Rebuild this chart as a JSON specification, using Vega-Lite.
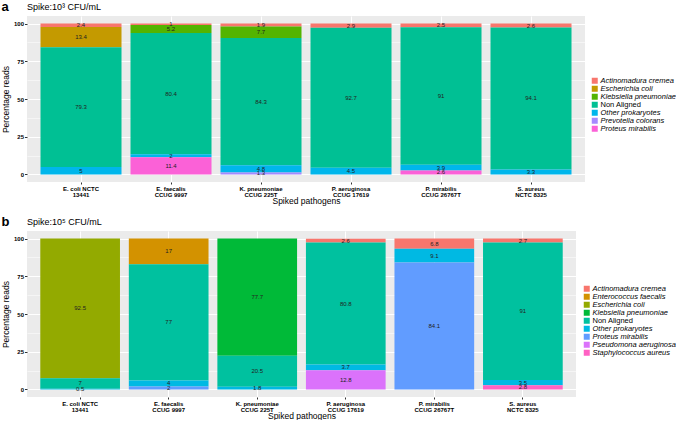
{
  "$schema": "https://vega.github.io/schema/vega-lite/v6.json",
  "background": "white",
  "padding": {"left": 1, "top": 1, "right": 0, "bottom": 0},
  "spacing": 11,
  "config": {
    "font": "Liberation Sans",
    "view": {"fill": "#EBEBEB", "stroke": null},
    "concat": {"spacing": 0},
    "axis": {
      "domain": false,
      "tickColor": "#333333",
      "tickSize": 2.5,
      "labelFontSize": 6,
      "labelFontWeight": "bold",
      "labelColor": "#000000",
      "labelPadding": 1,
      "gridColor": "#FFFFFF",
      "gridWidth": 1,
      "titleFontSize": 8.5,
      "titleFontWeight": "normal",
      "titleColor": "#000000"
    },
    "title": {"color": "#000000"}
  },
  "datasets": {
    "a": [
      {"sample": "E. coli NCTC\n13441", "taxon": "Actinomadura cremea", "pct": 2.4},
      {"sample": "E. coli NCTC\n13441", "taxon": "Escherichia coli", "pct": 13.4},
      {"sample": "E. coli NCTC\n13441", "taxon": "Non Aligned", "pct": 79.3},
      {"sample": "E. coli NCTC\n13441", "taxon": "Other prokaryotes", "pct": 5},
      {"sample": "E. faecalis\nCCUG 9997", "taxon": "Actinomadura cremea", "pct": 1},
      {"sample": "E. faecalis\nCCUG 9997", "taxon": "Klebsiella pneumoniae", "pct": 5.2},
      {"sample": "E. faecalis\nCCUG 9997", "taxon": "Non Aligned", "pct": 80.4},
      {"sample": "E. faecalis\nCCUG 9997", "taxon": "Other prokaryotes", "pct": 2},
      {"sample": "E. faecalis\nCCUG 9997", "taxon": "Proteus mirabilis", "pct": 11.4},
      {"sample": "K. pneumoniae\nCCUG 225T", "taxon": "Actinomadura cremea", "pct": 1.9},
      {"sample": "K. pneumoniae\nCCUG 225T", "taxon": "Klebsiella pneumoniae", "pct": 7.7},
      {"sample": "K. pneumoniae\nCCUG 225T", "taxon": "Non Aligned", "pct": 84.3},
      {"sample": "K. pneumoniae\nCCUG 225T", "taxon": "Other prokaryotes", "pct": 4.8},
      {"sample": "K. pneumoniae\nCCUG 225T", "taxon": "Prevotella colorans", "pct": 1.3},
      {"sample": "P. aeruginosa\nCCUG 17619", "taxon": "Actinomadura cremea", "pct": 2.9},
      {"sample": "P. aeruginosa\nCCUG 17619", "taxon": "Non Aligned", "pct": 92.7},
      {"sample": "P. aeruginosa\nCCUG 17619", "taxon": "Other prokaryotes", "pct": 4.5},
      {"sample": "P. mirabilis\nCCUG 26767T", "taxon": "Actinomadura cremea", "pct": 2.5},
      {"sample": "P. mirabilis\nCCUG 26767T", "taxon": "Non Aligned", "pct": 91},
      {"sample": "P. mirabilis\nCCUG 26767T", "taxon": "Other prokaryotes", "pct": 3.9},
      {"sample": "P. mirabilis\nCCUG 26767T", "taxon": "Proteus mirabilis", "pct": 2.6},
      {"sample": "S. aureus\nNCTC 8325", "taxon": "Actinomadura cremea", "pct": 2.6},
      {"sample": "S. aureus\nNCTC 8325", "taxon": "Non Aligned", "pct": 94.1},
      {"sample": "S. aureus\nNCTC 8325", "taxon": "Other prokaryotes", "pct": 3.3}
    ],
    "b": [
      {"sample": "E. coli NCTC\n13441", "taxon": "Escherichia coli", "pct": 92.5},
      {"sample": "E. coli NCTC\n13441", "taxon": "Non Aligned", "pct": 7},
      {"sample": "E. coli NCTC\n13441", "taxon": "Other prokaryotes", "pct": 0.5},
      {"sample": "E. faecalis\nCCUG 9997", "taxon": "Enterococcus faecalis", "pct": 17},
      {"sample": "E. faecalis\nCCUG 9997", "taxon": "Non Aligned", "pct": 77},
      {"sample": "E. faecalis\nCCUG 9997", "taxon": "Other prokaryotes", "pct": 4},
      {"sample": "E. faecalis\nCCUG 9997", "taxon": "Proteus mirabilis", "pct": 2},
      {"sample": "K. pneumoniae\nCCUG 225T", "taxon": "Klebsiella pneumoniae", "pct": 77.7},
      {"sample": "K. pneumoniae\nCCUG 225T", "taxon": "Non Aligned", "pct": 20.5},
      {"sample": "K. pneumoniae\nCCUG 225T", "taxon": "Other prokaryotes", "pct": 1.8},
      {"sample": "P. aeruginosa\nCCUG 17619", "taxon": "Actinomadura cremea", "pct": 2.6},
      {"sample": "P. aeruginosa\nCCUG 17619", "taxon": "Non Aligned", "pct": 80.8},
      {"sample": "P. aeruginosa\nCCUG 17619", "taxon": "Other prokaryotes", "pct": 3.7},
      {"sample": "P. aeruginosa\nCCUG 17619", "taxon": "Pseudomona aeruginosa", "pct": 12.8},
      {"sample": "P. mirabilis\nCCUG 26767T", "taxon": "Actinomadura cremea", "pct": 6.8},
      {"sample": "P. mirabilis\nCCUG 26767T", "taxon": "Other prokaryotes", "pct": 9.1},
      {"sample": "P. mirabilis\nCCUG 26767T", "taxon": "Proteus mirabilis", "pct": 84.1},
      {"sample": "S. aureus\nNCTC 8325", "taxon": "Actinomadura cremea", "pct": 2.7},
      {"sample": "S. aureus\nNCTC 8325", "taxon": "Non Aligned", "pct": 91},
      {"sample": "S. aureus\nNCTC 8325", "taxon": "Other prokaryotes", "pct": 3.5},
      {"sample": "S. aureus\nNCTC 8325", "taxon": "Staphylococcus aureus", "pct": 2.8}
    ]
  },
  "vconcat": [
    {
      "title": {"text": "a", "fontSize": 13, "fontWeight": "bold", "anchor": "start", "frame": "bounds", "offset": -11},
      "vconcat": [
        {
          "title": {"text": "Spike:10\u00b3 CFU/mL", "fontSize": 9, "fontWeight": "normal", "anchor": "start", "frame": "group", "offset": 4},
          "width": 558,
          "height": 166,
          "data": {"name": "a"},
          "encoding": {
            "x": {
              "field": "sample", "type": "nominal", "sort": null,
              "scale": {"paddingInner": 0.1, "paddingOuter": 0.15},
              "axis": {"title": "Spiked pathogens", "labelAngle": 0, "labelExpr": "split(datum.label, '\\n')", "labelLineHeight": 6.5, "grid": true, "bandPosition": 0.5, "titlePadding": -1, "tickSize": 2}
            },
            "y": {
              "field": "pct", "type": "quantitative", "stack": "zero",
              "scale": {"domain": [-5, 105], "nice": false, "zero": false},
              "axis": {
                "title": "Percentage reads",
                "values": [0, 12.5, 25, 37.5, 50, 62.5, 75, 87.5, 100],
                "labelExpr": "datum.value % 25 === 0 ? datum.label : ''",
                "grid": true,
                "gridWidth": {"condition": {"test": "datum.value % 25 !== 0", "value": 0.5}, "value": 1},
                "tickOpacity": {"condition": {"test": "datum.value % 25 !== 0", "value": 0}, "value": 1},
                "titlePadding": 3
              }
            },
            "order": {"field": "taxon", "sort": "descending"}
          },
          "layer": [
            {
              "mark": {"type": "bar"},
              "encoding": {
                "color": {
                  "field": "taxon", "type": "nominal",
                  "scale": {
                    "domain": ["Actinomadura cremea", "Escherichia coli", "Klebsiella pneumoniae", "Non Aligned", "Other prokaryotes", "Prevotella colorans", "Proteus mirabilis"],
                    "range": ["#F8766D", "#C49A00", "#53B400", "#00C094", "#00B6EB", "#A58AFF", "#FB61D7"]
                  },
                  "legend": {
                    "title": null, "orient": "none", "legendX": 564, "legendY": 61,
                    "symbolType": "square", "symbolSize": 36, "symbolStrokeWidth": 0, "symbolOpacity": 1,
                    "labelFontSize": 7.5, "labelColor": "#000000", "rowPadding": -3, "labelOffset": 2,
                    "encode": {"labels": {"update": {"fontStyle": {"signal": "datum.label === 'Non Aligned' ? 'normal' : 'italic'"}}}}
                  }
                }
              }
            },
            {
              "mark": {"type": "text", "fontSize": 6, "color": "#222222"},
              "encoding": {
                "y": {"field": "pct", "type": "quantitative", "stack": "zero", "bandPosition": 0.5},
                "detail": {"field": "taxon"},
                "text": {"field": "pct", "type": "nominal"}
              }
            }
          ]
        }
      ]
    },
    {
      "title": {"text": "b", "fontSize": 13, "fontWeight": "bold", "anchor": "start", "frame": "bounds", "offset": -11},
      "vconcat": [
        {
          "title": {"text": "Spike:10\u2075 CFU/mL", "fontSize": 9, "fontWeight": "normal", "anchor": "start", "frame": "group", "offset": 4},
          "width": 549,
          "height": 166,
          "data": {"name": "b"},
          "encoding": {
            "x": {
              "field": "sample", "type": "nominal", "sort": null,
              "scale": {"paddingInner": 0.1, "paddingOuter": 0.15},
              "axis": {"title": "Spiked pathogens", "labelAngle": 0, "labelExpr": "split(datum.label, '\\n')", "labelLineHeight": 6.5, "grid": true, "bandPosition": 0.5, "titlePadding": -1, "tickSize": 2}
            },
            "y": {
              "field": "pct", "type": "quantitative", "stack": "zero",
              "scale": {"domain": [-5, 105], "nice": false, "zero": false},
              "axis": {
                "title": "Percentage reads",
                "values": [0, 12.5, 25, 37.5, 50, 62.5, 75, 87.5, 100],
                "labelExpr": "datum.value % 25 === 0 ? datum.label : ''",
                "grid": true,
                "gridWidth": {"condition": {"test": "datum.value % 25 !== 0", "value": 0.5}, "value": 1},
                "tickOpacity": {"condition": {"test": "datum.value % 25 !== 0", "value": 0}, "value": 1},
                "titlePadding": 3
              }
            },
            "order": {"field": "taxon", "sort": "descending"}
          },
          "layer": [
            {
              "mark": {"type": "bar"},
              "encoding": {
                "color": {
                  "field": "taxon", "type": "nominal",
                  "scale": {
                    "domain": ["Actinomadura cremea", "Enterococcus faecalis", "Escherichia coli", "Klebsiella pneumoniae", "Non Aligned", "Other prokaryotes", "Proteus mirabilis", "Pseudomona aeruginosa", "Staphylococcus aureus"],
                    "range": ["#F8766D", "#D39200", "#93AA00", "#00BA38", "#00C19F", "#00B9E3", "#619CFF", "#DB72FB", "#FF61C3"]
                  },
                  "legend": {
                    "title": null, "orient": "none", "legendX": 556, "legendY": 54,
                    "symbolType": "square", "symbolSize": 36, "symbolStrokeWidth": 0, "symbolOpacity": 1,
                    "labelFontSize": 7.5, "labelColor": "#000000", "rowPadding": -3, "labelOffset": 2,
                    "encode": {"labels": {"update": {"fontStyle": {"signal": "datum.label === 'Non Aligned' ? 'normal' : 'italic'"}}}}
                  }
                }
              }
            },
            {
              "mark": {"type": "text", "fontSize": 6, "color": "#222222"},
              "encoding": {
                "y": {"field": "pct", "type": "quantitative", "stack": "zero", "bandPosition": 0.5},
                "detail": {"field": "taxon"},
                "text": {"field": "pct", "type": "nominal"}
              }
            }
          ]
        }
      ]
    }
  ],
  "resolve": {
    "scale": {"color": "independent", "x": "independent", "y": "independent"},
    "legend": {"color": "independent"}
  }
}
